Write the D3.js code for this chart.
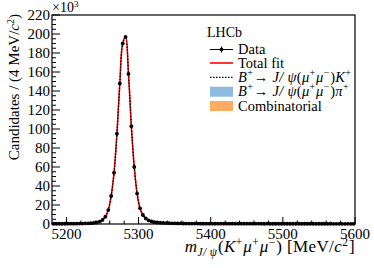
<!DOCTYPE html>
<html>
<head>
<meta charset="utf-8">
<script src="https://cdn.jsdelivr.net/npm/d3@7"></script>
<style>
  body { margin: 0; background: #fff; }
  svg text { font-family: "Liberation Serif", "Times New Roman", "DejaVu Serif", serif; }
</style>
</head>
<body>
<svg width="374" height="268"></svg>
<script>
// bin centres (4 MeV bins from 5180 to 5600)
var binLo = 5180, binW = 4;
// candidates per bin, in units of 10^3
var counts = [
  0.25, 0.25, 0.26, 0.27, 0.28, 0.30, 0.32, 0.35, 0.38, 0.42,
  0.48, 0.56, 0.68, 0.85, 1.15, 1.6, 2.5, 4.3, 7.7, 14.7,
  29.5, 54, 95, 148, 190, 197, 158, 103, 60, 32,
  16.5, 9.5, 5.8, 3.8, 2.7, 2.0, 1.6, 1.3, 1.1, 0.95,
  0.85, 0.75, 0.68, 0.62, 0.57, 0.53, 0.50, 0.47, 0.45, 0.43,
  0.41, 0.39, 0.38, 0.37, 0.36, 0.35, 0.36, 0.34, 0.35, 0.33,
  0.34, 0.33, 0.32, 0.33, 0.31, 0.32, 0.31, 0.30, 0.31, 0.30,
  0.29, 0.30, 0.29, 0.28, 0.29, 0.28, 0.28, 0.27, 0.28, 0.27,
  0.27, 0.26, 0.27, 0.26, 0.26, 0.25, 0.26, 0.25, 0.25, 0.25,
  0.24, 0.25, 0.24, 0.24, 0.24, 0.23, 0.24, 0.23, 0.23, 0.23,
  0.22, 0.23, 0.22, 0.22, 0.22
];
var xTicks = [5200, 5300, 5400, 5500, 5600];
var yTicks = [0, 20, 40, 60, 80, 100, 120, 140, 160, 180, 200, 220];

var data = counts.map(function (c, i) { return { m: binLo + binW * (i + 0.5), v: c }; });

var svg = d3.select("svg"),
  margin = { top: 15, right: 19, bottom: 44, left: 52 },
  width = 374 - margin.left - margin.right,
  height = 268 - margin.top - margin.bottom;

var x = d3.scaleLinear().domain([5180, 5600]).range([margin.left, margin.left + width]);
var y = d3.scaleLinear().domain([0, 220]).range([margin.top + height, margin.top]);

// frame
svg.append("rect")
  .attr("x", margin.left).attr("y", margin.top)
  .attr("width", width).attr("height", height)
  .attr("fill", "none").attr("stroke", "#000").attr("stroke-width", 1.2);

// x ticks (major + minor, pointing inward)
var xMinor = d3.range(5200, 5601, 20);
svg.append("g").selectAll("line").data(xMinor).enter().append("line")
  .attr("x1", function (d) { return x(d); }).attr("x2", function (d) { return x(d); })
  .attr("y1", y(0)).attr("y2", function (d) { return y(0) - (d % 100 === 0 ? 7 : 3.5); })
  .attr("stroke", "#000").attr("stroke-width", 1);
svg.append("g").selectAll("text").data(xTicks).enter().append("text")
  .attr("x", function (d) { return x(d); }).attr("y", y(0) + 15)
  .attr("text-anchor", "middle").attr("font-size", "15px")
  .text(function (d) { return d; });

// y ticks
var yMinor = d3.range(0, 221, 5);
svg.append("g").selectAll("line").data(yMinor).enter().append("line")
  .attr("y1", function (d) { return y(d); }).attr("y2", function (d) { return y(d); })
  .attr("x1", x(5180)).attr("x2", function (d) { return x(5180) + (d % 20 === 0 ? 8 : 4); })
  .attr("stroke", "#000").attr("stroke-width", 1);
svg.append("g").selectAll("text").data(yTicks).enter().append("text")
  .attr("x", margin.left - 2).attr("y", function (d) { return y(d) + 5; })
  .attr("text-anchor", "end").attr("font-size", "15px")
  .text(function (d) { return d; });

// x10^3
var mult = svg.append("text").attr("x", margin.left).attr("y", 12).attr("font-size", "14px");
mult.append("tspan").text("\u00d710");
mult.append("tspan").attr("dy", -5).attr("font-size", "9px").text("3");

// y label
var yl = svg.append("text")
  .attr("transform", "translate(19,14) rotate(-90)")
  .attr("text-anchor", "end").attr("font-size", "15px");
yl.append("tspan").text("Candidates / (4 MeV/");
yl.append("tspan").attr("font-style", "italic").text("c");
yl.append("tspan").attr("dy", -5).attr("font-size", "10px").text("2");
yl.append("tspan").attr("dy", 5).text(")");

// superscript helper on a text element
function sup(t, s, size) {
  t.append("tspan").attr("dy", -6).attr("font-size", size).text(s);
  return t.append("tspan").attr("dy", 6).attr("dx", 0.6);
}

// x label
var xl = svg.append("text").attr("x", margin.left + width).attr("y", 252)
  .attr("text-anchor", "end").attr("font-size", "17px").attr("letter-spacing", 0.4);
xl.append("tspan").attr("font-style", "italic").text("m");
xl.append("tspan").attr("dy", 4).attr("font-size", "11.5px").attr("font-style", "italic").text("J/ \u03c8");
xl.append("tspan").attr("dy", -4).attr("dx", 0.6).text("(");
xl.append("tspan").attr("font-style", "italic").text("K");
sup(xl, "+", "11.5px").attr("font-style", "italic").text("\u03bc");
sup(xl, "+", "11.5px").attr("font-style", "italic").text("\u03bc");
sup(xl, "\u2212", "11.5px").text(") [MeV/");
xl.append("tspan").attr("font-style", "italic").text("c");
sup(xl, "2", "11.5px").text("]");

// fit curves
var line = d3.line()
  .x(function (d) { return x(d.m); })
  .y(function (d) { return y(d.v); })
  .curve(d3.curveCatmullRom);

svg.append("path").datum(data).attr("d", line)
  .attr("fill", "none").attr("stroke", "#ff0000").attr("stroke-width", 1.6);
svg.append("path").datum(data).attr("d", line)
  .attr("fill", "none").attr("stroke", "#000").attr("stroke-width", 1.2)
  .attr("stroke-dasharray", "1.5,1.5");

// data points
var pts = svg.append("g");
pts.selectAll("line").data(data).enter().append("line")
  .attr("x1", function (d) { return x(d.m - 2); }).attr("x2", function (d) { return x(d.m + 2); })
  .attr("y1", function (d) { return y(d.v); }).attr("y2", function (d) { return y(d.v); })
  .attr("stroke", "#000").attr("stroke-width", 1);
pts.selectAll("circle").data(data).enter().append("circle")
  .attr("cx", function (d) { return x(d.m); }).attr("cy", function (d) { return y(d.v); })
  .attr("r", 1.9).attr("fill", "#000");

// legend
var lx = 210, lw = 23, tx = 238;
svg.append("text").attr("x", 207).attr("y", 37).attr("font-size", "14px").text("LHCb");

var rows = [49.5, 63, 77.3, 91.7, 106];
// Data
svg.append("line").attr("x1", lx).attr("x2", lx + lw).attr("y1", rows[0]).attr("y2", rows[0])
  .attr("stroke", "#000").attr("stroke-width", 1);
svg.append("line").attr("x1", lx + lw / 2).attr("x2", lx + lw / 2).attr("y1", rows[0] - 3).attr("y2", rows[0] + 3)
  .attr("stroke", "#000").attr("stroke-width", 1);
svg.append("circle").attr("cx", lx + lw / 2).attr("cy", rows[0]).attr("r", 1.9).attr("fill", "#000");
// Total fit
svg.append("line").attr("x1", lx).attr("x2", lx + lw).attr("y1", rows[1]).attr("y2", rows[1])
  .attr("stroke", "#ff0000").attr("stroke-width", 1.6);
// signal dotted
svg.append("line").attr("x1", lx).attr("x2", lx + lw).attr("y1", rows[2]).attr("y2", rows[2])
  .attr("stroke", "#000").attr("stroke-width", 1.2).attr("stroke-dasharray", "1.5,1.5");
// boxes
svg.append("rect").attr("x", lx).attr("y", rows[3] - 5).attr("width", lw).attr("height", 10)
  .attr("fill", "#8fbcde");
svg.append("rect").attr("x", lx).attr("y", rows[4] - 5).attr("width", lw).attr("height", 10)
  .attr("fill", "#fdac62");

function legText(row) {
  return svg.append("text").attr("x", tx).attr("y", row + 4.5).attr("font-size", "14.5px");
}
legText(rows[0]).text("Data");
legText(rows[1]).text("Total fit");
legText(rows[4]).text("Combinatorial");

function decay(t, last) {
  t.attr("letter-spacing", 0.3);
  t.append("tspan").attr("font-style", "italic").text("B");
  sup(t, "+", "10px").text("\u2192 ");
  t.append("tspan").attr("font-style", "italic").text("J/ \u03c8");
  t.append("tspan").text("(");
  t.append("tspan").attr("font-style", "italic").text("\u03bc");
  sup(t, "+", "10px").attr("font-style", "italic").text("\u03bc");
  sup(t, "\u2212", "10px").text(")");
  t.append("tspan").attr("font-style", "italic").text(last);
  t.append("tspan").attr("dy", -6).attr("font-size", "10px").text("+");
}
decay(legText(rows[2]), "K");
decay(legText(rows[3]), "\u03c0");
</script>
</body>
</html>
